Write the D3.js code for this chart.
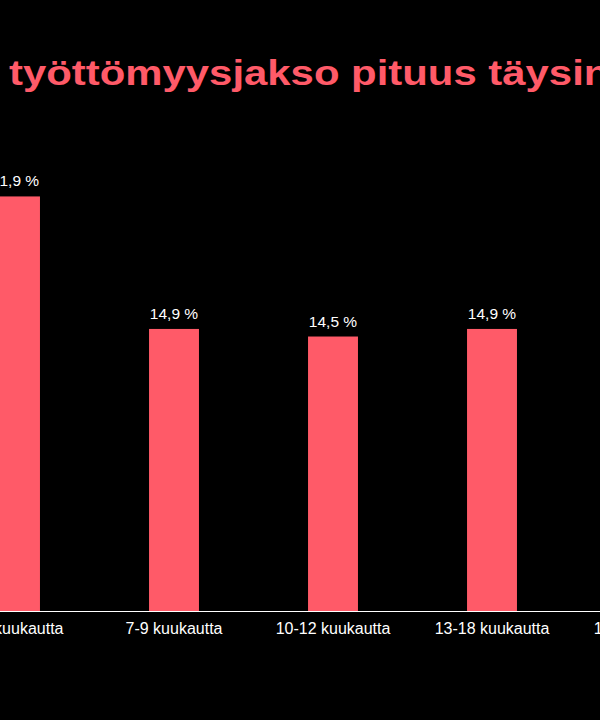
<!DOCTYPE html>
<html><head><meta charset="utf-8">
<script src="https://cdn.jsdelivr.net/npm/d3@7"></script>
<style>html,body{margin:0;padding:0;background:#000;overflow:hidden}</style>
</head><body>
<svg id="c" width="600" height="720"></svg>
<script>
const categories = ["4-6 kuukautta","7-9 kuukautta","10-12 kuukautta","13-18 kuukautta","19-24 kuukautta"];
const values = [21.9, 14.9, 14.5, 14.9, 12.0];
const titleText = "työttömyysjakso pituus täysin työttömillä";

const svg = d3.select("#c");
svg.append("rect").attr("width",600).attr("height",720).attr("fill","#000");
const barColor = "#ff5a68";
const font = "Liberation Sans, Arial, sans-serif";
const baseY = 611;
const x = d3.scaleBand().domain(categories).range([-64.5, 730.5]).paddingInner(0.686).paddingOuter(0.343);
const y = d3.scaleLinear().domain([0, 25]).range([baseY, baseY - 25*18.93]);
const fmt = v => d3.format(".1f")(v).replace(".", ",") + " %";

svg.append("text").attr("transform","translate(9,85) scale(1.18,1)")
  .attr("font-family",font).attr("font-weight","bold")
  .attr("font-size", 35.5).attr("fill", barColor).text(titleText);

svg.selectAll("rect.bar").data(values).enter().append("rect").attr("class","bar")
  .attr("x",(d,i)=>x(categories[i])).attr("width",x.bandwidth())
  .attr("y",d=>y(d)).attr("height",d=>baseY-y(d)).attr("fill",barColor);

svg.selectAll("text.val").data(values).enter().append("text").attr("class","val")
  .attr("x",(d,i)=>x(categories[i])+x.bandwidth()/2).attr("y",d=>y(d)-10)
  .attr("text-anchor","middle").attr("font-family",font)
  .attr("font-size",15.5).attr("fill","#fff").text(fmt);

const ax = svg.append("g").attr("transform",`translate(0,${baseY})`)
  .call(d3.axisBottom(x).tickSize(0));
ax.select(".domain").attr("stroke","#fff").attr("d","M-100,0.5H800");
ax.selectAll("text").attr("fill","#fff").attr("font-family",font).attr("font-size",16)
  .attr("y",23).attr("dy",0);
</script>
</body></html>
